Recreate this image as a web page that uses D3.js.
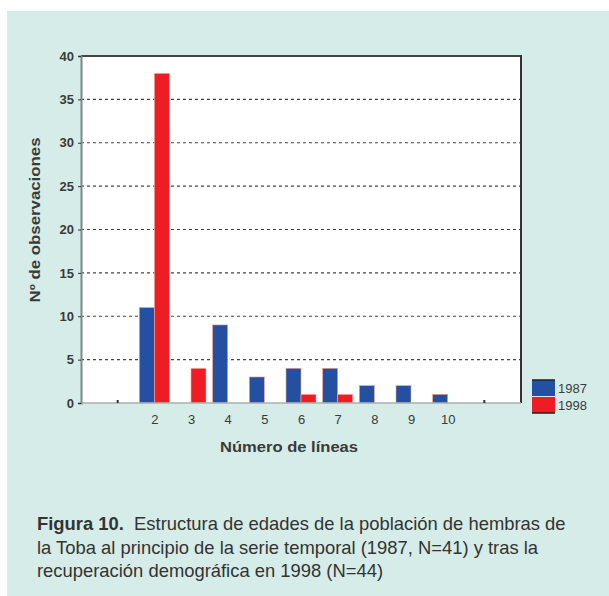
<!DOCTYPE html>
<html>
<head>
<meta charset="utf-8">
<script src="https://cdn.jsdelivr.net/npm/d3@7"></script>
<style>
  body { margin: 0; background: #fff; }
  svg { display: block; }
</style>
</head>
<body>
<script>
// ages (número de líneas) shown on the x axis
var categories = [2, 3, 4, 5, 6, 7, 8, 9, 10];
var values1987 = [11, 0, 9, 3, 4, 4, 2, 2, 1];
var values1998 = [38, 4, 0, 0, 1, 1, 0, 0, 0];
var seriesNames = ["1987", "1998"];
var seriesColors = ["#2450a2", "#ee1c24"];
var yTicks = [0, 5, 10, 15, 20, 25, 30, 35, 40];
var gridTicks = [5, 10, 15, 20, 25, 30, 35];
var captionLines = [
  ["Figura 10.", "  Estructura de edades de la población de hembras de"],
  ["", "la Toba al principio de la serie temporal (1987, N=41) y tras la"],
  ["", "recuperación demográfica en 1998 (N=44)"]
];

var W = 609, H = 596;
var svg = d3.select("body").append("svg")
    .attr("width", W)
    .attr("height", H);

// teal panel
svg.append("rect")
    .attr("x", 7).attr("y", 11)
    .attr("width", W - 7).attr("height", H - 11)
    .style("fill", "#d5ece8");

var pLeft = 81, pRight = 521, pTop = 56, pBottom = 403;

var x = d3.scaleLinear().domain([0, 12]).range([pLeft, pRight]);
var y = d3.scaleLinear().domain([0, 40]).range([pBottom, pTop]);
var barW = 15;

svg.append("rect")
    .attr("x", pLeft).attr("y", pTop)
    .attr("width", pRight - pLeft).attr("height", pBottom - pTop)
    .style("fill", "#fff");

// dashed grid
svg.selectAll(".grid")
    .data(gridTicks)
    .enter()
    .append("line")
    .attr("x1", pLeft).attr("x2", pRight)
    .attr("y1", function (d) { return y(d); })
    .attr("y2", function (d) { return y(d); })
    .style("stroke", "#444")
    .style("stroke-width", 1.2)
    .style("stroke-dasharray", "3,3");

var rows = categories.map(function (c, i) {
  return { c: c, a: values1987[i], b: values1998[i] };
});

// 1987 bars, left of the tick
svg.selectAll(".b1987")
    .data(rows.filter(function (d) { return d.a > 0; }))
    .enter()
    .append("rect")
    .attr("x", function (d) { return x(d.c) - barW; })
    .attr("y", function (d) { return y(d.a); })
    .attr("width", barW)
    .attr("height", function (d) { return y(0) - y(d.a); })
    .style("fill", seriesColors[0])
    .style("stroke", "#f3a08a")
    .style("stroke-width", 0.6);

// 1998 bars, right of the tick
svg.selectAll(".b1998")
    .data(rows.filter(function (d) { return d.b > 0; }))
    .enter()
    .append("rect")
    .attr("x", function (d) { return x(d.c); })
    .attr("y", function (d) { return y(d.b); })
    .attr("width", barW)
    .attr("height", function (d) { return y(0) - y(d.b); })
    .style("fill", seriesColors[1])
    .style("stroke", "#f7b0a0")
    .style("stroke-width", 0.6);

// frame
svg.append("line")
    .attr("x1", pLeft).attr("x2", pRight).attr("y1", pTop).attr("y2", pTop)
    .style("stroke", "#444").style("stroke-width", 2);
svg.append("line")
    .attr("x1", pRight).attr("x2", pRight).attr("y1", pTop - 1).attr("y2", pBottom)
    .style("stroke", "#333").style("stroke-width", 2);
svg.append("line")
    .attr("x1", pLeft).attr("x2", pRight).attr("y1", pBottom).attr("y2", pBottom)
    .style("stroke", "#a8b0b0").style("stroke-width", 1.5);

// y axis
var yAxis = d3.axisLeft(y).tickValues(yTicks).tickSize(3).tickPadding(4);
var gy = svg.append("g")
    .attr("transform", "translate(" + pLeft + ",0)")
    .call(yAxis);
gy.select(".domain").style("stroke", "#7d8888").style("stroke-width", 2);
gy.selectAll(".tick line").style("stroke", "#333");
gy.selectAll(".tick text")
    .style("font-family", "Liberation Sans, Arial, sans-serif")
    .style("font-size", "13px")
    .style("font-weight", "bold")
    .style("fill", "#3a3a3a");

// x axis labels
var xAxis = d3.axisBottom(x).tickValues(categories).tickSize(0).tickPadding(12);
var gx = svg.append("g")
    .attr("transform", "translate(0," + pBottom + ")")
    .call(xAxis);
gx.select(".domain").remove();
gx.selectAll(".tick text")
    .style("font-family", "Liberation Sans, Arial, sans-serif")
    .style("font-size", "13px")
    .style("fill", "#3a3a3a");

// small tick marks at the empty ends
svg.selectAll(".endtick")
    .data([1, 11])
    .enter()
    .append("rect")
    .attr("x", function (d) { return x(d) - 1; })
    .attr("y", pBottom - 3)
    .attr("width", 2).attr("height", 3)
    .style("fill", "#333");

// axis titles
svg.append("text")
    .attr("x", 289).attr("y", 452)
    .attr("text-anchor", "middle")
    .attr("textLength", 138)
    .attr("lengthAdjust", "spacingAndGlyphs")
    .style("font-family", "Liberation Sans, Arial, sans-serif")
    .style("font-size", "14px")
    .style("font-weight", "bold")
    .style("fill", "#3a3a3a")
    .text("Número de líneas");

svg.append("text")
    .attr("transform", "translate(40,220) rotate(-90)")
    .attr("text-anchor", "middle")
    .attr("textLength", 165)
    .attr("lengthAdjust", "spacingAndGlyphs")
    .style("font-family", "Liberation Sans, Arial, sans-serif")
    .style("font-size", "14px")
    .style("font-weight", "bold")
    .style("fill", "#3a3a3a")
    .text("Nº de observaciones");

// legend
var lg = svg.append("g").attr("transform", "translate(532,380)");
lg.selectAll("rect")
    .data(seriesNames)
    .enter()
    .append("rect")
    .attr("x", 0)
    .attr("y", function (d, i) { return i * 17; })
    .attr("width", 23).attr("height", 16)
    .style("fill", function (d, i) { return seriesColors[i]; });
lg.append("line").attr("x1", 0).attr("x2", 23).attr("y1", 0).attr("y2", 0)
    .style("stroke", "#222").style("stroke-width", 1.5);
lg.append("line").attr("x1", 0).attr("x2", 23).attr("y1", 33).attr("y2", 33)
    .style("stroke", "#222").style("stroke-width", 1.5);
lg.selectAll("text")
    .data(seriesNames)
    .enter()
    .append("text")
    .attr("x", 26)
    .attr("y", function (d, i) { return i * 17 + 13; })
    .style("font-family", "Liberation Sans, Arial, sans-serif")
    .style("font-size", "13px")
    .style("fill", "#3a3a3a")
    .text(function (d) { return d; });

// caption
var cap = svg.append("g");
captionLines.forEach(function (ln, i) {
  var t = cap.append("text")
      .attr("x", 37)
      .attr("y", 530 + i * 23.5)
      .attr("xml:space", "preserve")
      .style("font-family", "Liberation Sans, Arial, sans-serif")
      .style("font-size", "18.4px")
      .style("fill", "#333");
  if (ln[0]) t.append("tspan").style("font-weight", "bold").text(ln[0]);
  t.append("tspan").text(ln[1]);
});
</script>
</body>
</html>
